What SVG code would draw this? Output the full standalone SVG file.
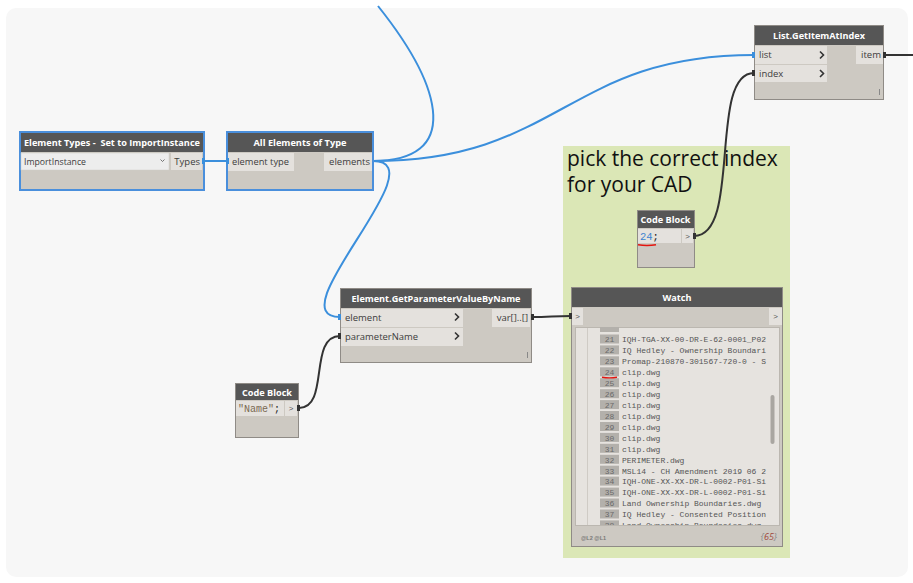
<svg xmlns="http://www.w3.org/2000/svg" width="913" height="583" viewBox="0 0 913 583">
<defs>
<style>
.body{fill:#cdc9c2;stroke:#8f8b86;stroke-width:1}
.sel{fill:#cdc9c2;stroke:#4a8fdc;stroke-width:2}
.hdr{fill:#565656}
.ht{font-family:"Open Sans","Liberation Sans",sans-serif;font-weight:bold;font-size:9px;fill:#ffffff;text-anchor:middle}
.port{fill:#e4e1dd}
.pt{font-family:"Open Sans","Liberation Sans",sans-serif;font-size:9.5px;fill:#3c3c3c}
.chev{fill:none;stroke:#333;stroke-width:1.6}
.mono{font-family:"Liberation Mono","DejaVu Sans Mono",monospace}
.wb{fill:none;stroke:#3b8fdc;stroke-width:2}
.wd{fill:none;stroke:#333333;stroke-width:2}
.idx{fill:#b3b0ab}
.it{font-family:"Liberation Mono","DejaVu Sans Mono",monospace;font-size:8px;fill:#555}
.in{font-family:"Liberation Mono","DejaVu Sans Mono",monospace;font-size:8px;fill:#6a6a6a;text-anchor:middle}
.sm{font-family:"Liberation Sans",sans-serif;font-size:8px;fill:#555;text-anchor:middle}
.red{fill:none;stroke:#e3150f;stroke-width:1.4}
</style>
<clipPath id="listclip"><rect x="575" y="327" width="205" height="198"/></clipPath>
</defs>
<rect x="0" y="0" width="913" height="583" fill="#ffffff"/>
<rect x="6" y="8" width="902" height="569" rx="10" fill="#f7f7f7"/>

<g id="group-note">
<rect x="563" y="146" width="227" height="412" fill="#dbe7b6"/>
<text x="567" y="166" font-family="'Open Sans','Liberation Sans',sans-serif" font-size="21" fill="#111">pick the correct index</text>
<text x="567" y="192" font-family="'Open Sans','Liberation Sans',sans-serif" font-size="21" fill="#111">for your CAD</text>
</g>

<g id="connectors">
<path class="wb" d="M203,161 L228,161"/>
<path class="wb" d="M373,161 C560,161 567,55 754,55"/>
<path class="wb" d="M373,161 C460,161 445,90 378,6"/>
<path class="wb" d="M373,161 C440,161 275,317 340,317"/>
<path class="wd" d="M299,408 C330,408 308,336 340,336"/>
<path class="wd" d="M532,317 C550,317 553,316 571,316"/>
<path class="wd" d="M694,236 C742,236 708,73 754,73"/>
<path class="wd" d="M884,55 L913,55"/>
</g>

<g id="node-element-types">
<rect class="sel" x="20" y="132" width="184" height="58"/>
<rect class="hdr" x="21" y="133" width="182" height="19"/>
<text class="ht" x="112" y="146" textLength="176" lengthAdjust="spacingAndGlyphs">Element Types -&#160; Set to ImportInstance</text>
<rect x="21" y="153" width="148" height="17" fill="#ededed" stroke="#d0cdc8" stroke-width="0.5"/>
<text class="pt" x="24" y="165" textLength="62" lengthAdjust="spacingAndGlyphs">ImportInstance</text>
<path d="M160.5,159.5 L162.5,161.5 L164.5,159.5" fill="none" stroke="#555" stroke-width="0.8"/>
<rect class="port" x="171" y="153" width="31" height="17"/>
<text class="pt" x="200" y="165" text-anchor="end">Types</text>
<rect x="202" y="158" width="3" height="6" fill="#3b8fdc"/>
</g>

<g id="node-all-elements">
<rect class="sel" x="227" y="132" width="146" height="58"/>
<rect class="hdr" x="228" y="133" width="144" height="19"/>
<text class="ht" x="300" y="146" textLength="93" lengthAdjust="spacingAndGlyphs">All Elements of Type</text>
<rect class="port" x="228" y="153" width="66" height="18"/>
<text class="pt" x="232" y="165" textLength="57" lengthAdjust="spacingAndGlyphs">element type</text>
<rect class="port" x="324" y="153" width="48" height="18"/>
<text class="pt" x="370" y="165" text-anchor="end">elements</text>
<rect x="226" y="158" width="3" height="6" fill="#3b8fdc"/>
</g>

<g id="node-list-getitematindex">
<rect class="body" x="754.5" y="25.5" width="129" height="74"/>
<rect class="hdr" x="755" y="26" width="128" height="19"/>
<text class="ht" x="819" y="39" textLength="92" lengthAdjust="spacingAndGlyphs">List.GetItemAtIndex</text>
<rect class="port" x="755" y="46" width="72" height="18"/>
<text class="pt" x="759" y="58">list</text>
<path class="chev" d="M820,51.5 L823.5,55 L820,58.5"/>
<rect class="port" x="755" y="65" width="72" height="17"/>
<text class="pt" x="759" y="77">index</text>
<path class="chev" d="M820,70 L823.5,73.5 L820,77"/>
<rect class="port" x="856" y="46" width="27" height="18"/>
<text class="pt" x="881" y="58" text-anchor="end">item</text>
<line x1="879.5" y1="89" x2="879.5" y2="95" stroke="#888" stroke-width="1"/>
<rect x="752" y="52" width="3" height="6" fill="#3b8fdc"/>
<rect x="752" y="70" width="3" height="6" fill="#333"/>
<rect x="883" y="52" width="3" height="6" fill="#333"/>
</g>

<g id="node-codeblock-24">
<rect class="body" x="637.5" y="210.5" width="57" height="57"/>
<rect class="hdr" x="638" y="211" width="56" height="17"/>
<text class="ht" x="665.5" y="223" textLength="50" lengthAdjust="spacingAndGlyphs">Code Block</text>
<rect class="port" x="638" y="229" width="43" height="14"/>
<text class="mono" x="640" y="240" font-size="10.5"><tspan fill="#3b82d0">24</tspan><tspan fill="#222">;</tspan></text>
<path class="red" d="M638,244.8 Q647,246.3 656,244.8"/>
<rect class="port" x="682" y="229" width="11" height="14"/>
<text class="sm" x="687.5" y="239">&gt;</text>
<rect x="693" y="233" width="3" height="6" fill="#333"/>
</g>

<g id="node-getparametervaluebyname">
<rect class="body" x="340.5" y="288.5" width="191" height="74"/>
<rect class="hdr" x="341" y="289" width="190" height="19"/>
<text class="ht" x="436" y="302" textLength="169" lengthAdjust="spacingAndGlyphs">Element.GetParameterValueByName</text>
<rect class="port" x="341" y="309" width="122" height="18"/>
<text class="pt" x="345" y="321">element</text>
<path class="chev" d="M455,313.5 L458.5,317 L455,320.5"/>
<rect class="port" x="341" y="328" width="122" height="18"/>
<text class="pt" x="345" y="340" textLength="73" lengthAdjust="spacingAndGlyphs">parameterName</text>
<path class="chev" d="M455,332.5 L458.5,336 L455,339.5"/>
<rect class="port" x="492" y="309" width="38" height="18"/>
<text class="pt" x="528" y="321" text-anchor="end">var[]..[]</text>
<line x1="527.5" y1="352" x2="527.5" y2="358" stroke="#888" stroke-width="1"/>
<rect x="338" y="314" width="3" height="6" fill="#3b8fdc"/>
<rect x="338" y="333" width="3" height="6" fill="#333"/>
<rect x="531" y="314" width="3" height="6" fill="#333"/>
</g>

<g id="node-codeblock-name">
<rect class="body" x="235.5" y="383.5" width="63" height="54"/>
<rect class="hdr" x="236" y="384" width="62" height="16"/>
<text class="ht" x="267" y="396" textLength="50" lengthAdjust="spacingAndGlyphs">Code Block</text>
<rect class="port" x="236" y="401" width="48" height="15"/>
<text class="mono" x="238" y="412" font-size="10" fill="#7a6a52">"Name"<tspan fill="#222">;</tspan></text>
<rect class="port" x="285" y="401" width="12" height="15"/>
<text class="sm" x="291" y="411">&gt;</text>
<rect x="297" y="405" width="3" height="6" fill="#333"/>
</g>

<g id="node-watch">
<rect class="body" x="571.5" y="287.5" width="211" height="259"/>
<rect class="hdr" x="572" y="288" width="210" height="19"/>
<text class="ht" x="677" y="301" textLength="29" lengthAdjust="spacingAndGlyphs">Watch</text>
<rect class="port" x="572" y="308" width="11" height="17"/>
<text class="sm" x="577.5" y="319">&gt;</text>
<rect class="port" x="769" y="308" width="13" height="17"/>
<text class="sm" x="775.5" y="319">&gt;</text>
<rect x="569" y="313" width="3" height="6" fill="#333"/>
<rect x="575.5" y="327.5" width="204" height="198" fill="#e6e3df" stroke="#bbb7b0" stroke-width="1"/>
<line x1="587.5" y1="328" x2="587.5" y2="525" stroke="#cfcbc5" stroke-width="1"/>
<g clip-path="url(#listclip)">
<rect class="idx" x="600" y="323" width="19" height="9"/>
<rect class="idx" x="600" y="334.5" width="19" height="9"/><text class="in" x="609.5" y="342">21</text><text class="it" x="622" y="342">IQH-TGA-XX-00-DR-E-62-0001_P02</text>
<rect class="idx" x="600" y="345.4" width="19" height="9"/><text class="in" x="609.5" y="353">22</text><text class="it" x="622" y="353">IQ Hedley - Ownership Boundari</text>
<rect class="idx" x="600" y="356.3" width="19" height="9"/><text class="in" x="609.5" y="364">23</text><text class="it" x="622" y="364">Promap-210870-301567-720-0 - S</text>
<rect class="idx" x="600" y="367.3" width="19" height="9"/><text class="in" x="609.5" y="375">24</text><text class="it" x="622" y="375">clip.dwg</text>
<rect class="idx" x="600" y="378.2" width="19" height="9"/><text class="in" x="609.5" y="386">25</text><text class="it" x="622" y="386">clip.dwg</text>
<rect class="idx" x="600" y="389.2" width="19" height="9"/><text class="in" x="609.5" y="397">26</text><text class="it" x="622" y="397">clip.dwg</text>
<rect class="idx" x="600" y="400.1" width="19" height="9"/><text class="in" x="609.5" y="408">27</text><text class="it" x="622" y="408">clip.dwg</text>
<rect class="idx" x="600" y="411" width="19" height="9"/><text class="in" x="609.5" y="418.8">28</text><text class="it" x="622" y="418.8">clip.dwg</text>
<rect class="idx" x="600" y="422" width="19" height="9"/><text class="in" x="609.5" y="429.8">29</text><text class="it" x="622" y="429.8">clip.dwg</text>
<rect class="idx" x="600" y="432.9" width="19" height="9"/><text class="in" x="609.5" y="440.7">30</text><text class="it" x="622" y="440.7">clip.dwg</text>
<rect class="idx" x="600" y="443.8" width="19" height="9"/><text class="in" x="609.5" y="451.6">31</text><text class="it" x="622" y="451.6">clip.dwg</text>
<rect class="idx" x="600" y="454.8" width="19" height="9"/><text class="in" x="609.5" y="462.6">32</text><text class="it" x="622" y="462.6">PERIMETER.dwg</text>
<rect class="idx" x="600" y="465.7" width="19" height="9"/><text class="in" x="609.5" y="473.5">33</text><text class="it" x="622" y="473.5">MSL14 - CH Amendment 2019 06 2</text>
<rect class="idx" x="600" y="476.6" width="19" height="9"/><text class="in" x="609.5" y="484.4">34</text><text class="it" x="622" y="484.4">IQH-ONE-XX-XX-DR-L-0002-P01-Si</text>
<rect class="idx" x="600" y="487.6" width="19" height="9"/><text class="in" x="609.5" y="495.4">35</text><text class="it" x="622" y="495.4">IQH-ONE-XX-XX-DR-L-0002-P01-Si</text>
<rect class="idx" x="600" y="498.5" width="19" height="9"/><text class="in" x="609.5" y="506.3">36</text><text class="it" x="622" y="506.3">Land Ownership Boundaries.dwg</text>
<rect class="idx" x="600" y="509.5" width="19" height="9"/><text class="in" x="609.5" y="517.3">37</text><text class="it" x="622" y="517.3">IQ Hedley - Consented Position</text>
<rect class="idx" x="600" y="520.4" width="19" height="9"/><text class="in" x="609.5" y="528.2">38</text><text class="it" x="622" y="528.2">Land Ownership Boundaries.dwg</text>
</g>
<path class="red" d="M602,377.2 Q609.5,378.6 617,377.2"/>
<rect x="770.5" y="395" width="4" height="49" rx="2" fill="#a9a6a1"/>
<text x="581" y="539.5" font-family="'Liberation Sans',sans-serif" font-size="5.5" font-weight="bold" fill="#777">@L2 @L1</text>
<text x="777" y="540" text-anchor="end" font-family="'Open Sans','Liberation Sans',sans-serif" font-size="9" font-style="italic" fill="#8a8a8a">{<tspan fill="#a0463a">65</tspan>}</text>
</g>
</svg>
